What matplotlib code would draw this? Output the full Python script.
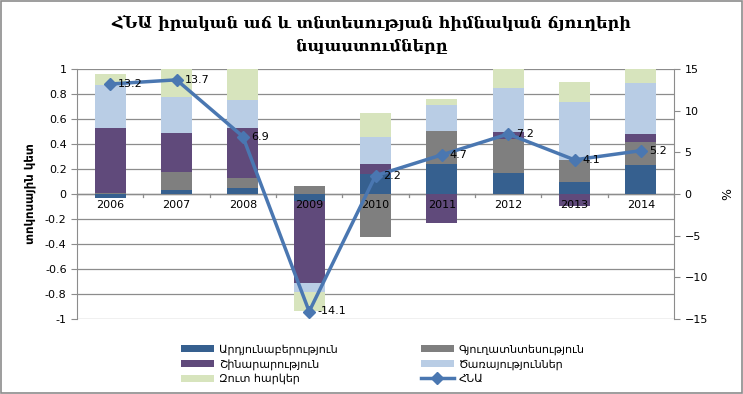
import numpy as np
import matplotlib.pyplot as plt

plt.rcParams['font.family'] = ['DejaVu Sans']

years = ['2006', '2007', '2008', '2009', '2010', '2011', '2012', '2013', '2014']
industry = [-0.035, 0.035, 0.051, -0.056, 0.163, 0.243, 0.171, 0.099, 0.235]
agriculture = [0.01, 0.144, 0.08, 0.067, -0.347, 0.264, 0.272, 0.176, 0.184]
construction = [0.52, 0.312, 0.40, -0.654, 0.08, -0.235, 0.057, -0.099, 0.064]
services = [0.345, 0.289, 0.225, -0.072, 0.216, 0.209, 0.352, 0.465, 0.409]
net_taxes = [0.088, 0.25, 0.26, -0.15, 0.193, 0.048, 0.16, 0.16, 0.12]
gdp = [13.2, 13.7, 6.9, -14.1, 2.2, 4.7, 7.2, 4.1, 5.2]

names = ['Արդյունաբերություն', 'Գյուղատնտեսություն', 'Շինարարություն',
         'Ծառայություններ', 'Զուտ հարկեր']
colors = ['#36608f', '#7f7f7f', '#604a7b', '#b9cde5', '#d7e4bd']
series = [industry, agriculture, construction, services, net_taxes]

fig = plt.figure(figsize=(7.43, 3.94), dpi=100)
ax = fig.add_axes([77/743, 1-319/394, 597/743, 250/394])
x = np.arange(len(years))

pos = np.zeros(len(years))
neg = np.zeros(len(years))
handles = []
for vals, c, n in zip(series, colors, names):
    v = np.array(vals)
    bottom = np.where(v >= 0, pos, neg)
    b = ax.bar(x, v, 0.47, bottom=bottom, color=c, label=n, zorder=2)
    handles.append(b)
    pos = pos + np.where(v >= 0, v, 0)
    neg = neg + np.where(v < 0, v, 0)

ax.set_xlim(-0.5, 8.5)
ax.set_ylim(-1, 1)
ax.set_yticks(np.arange(-1, 1.01, 0.2))
ax.set_yticklabels(['-1', '-0.8', '-0.6', '-0.4', '-0.2', '0', '0.2', '0.4', '0.6', '0.8', '1'])
ax.grid(axis='y', color='#8c8c8c', lw=0.9, zorder=0)
ax.set_axisbelow(True)
for s in ['top', 'right', 'bottom']:
    ax.spines[s].set_visible(False)
ax.spines['left'].set_color('#8c8c8c')
ax.axhline(0, color='#8c8c8c', lw=1, zorder=1)
ax.set_xticks([])
for i in range(10):
    ax.plot([i - 0.5, i - 0.5], [0, -0.025], color='#8c8c8c', lw=0.9, clip_on=False, zorder=1)
for i, yr in enumerate(years):
    ax.text(i, -0.045, yr, ha='center', va='top', fontsize=8, zorder=3)
ax.tick_params(axis='y', labelsize=8, length=4, color='#8c8c8c')
ax.set_ylabel('տոկոսային կետ', fontsize=8.5, fontweight='bold', labelpad=6)

ax2 = ax.twinx()
ax2.set_ylim(-15, 15)
ax2.set_yticks(np.arange(-15, 16, 5))
for s in ['top', 'left', 'bottom']:
    ax2.spines[s].set_visible(False)
ax2.spines['right'].set_color('#8c8c8c')
ax2.tick_params(axis='y', labelsize=8, length=4, color='#8c8c8c')
line, = ax2.plot(x, gdp, color='#4a77b1', lw=2.5, marker='D', ms=6,
                 label='ՀՆԱ', zorder=4)
for i, g in enumerate(gdp):
    ax2.text(i + 0.12, g, f'{g}', fontsize=8, va='center', ha='left', zorder=5)
ax2.set_ylabel('%', fontsize=9, labelpad=10)

fig.text(0.5, 0.912, 'ՀՆԱ իրական աճ և տնտեսության հիմնական ճյուղերի\nնպաստումները',
         ha='center', va='center', fontsize=11.5, fontweight='bold', family='DejaVu Serif',
         linespacing=1.45)

# legend filled column-wise, so reorder to read row-wise like the original
leg_h = [handles[0], handles[2], handles[4], handles[1], handles[3], line]
leg_l = [names[0], names[2], names[4], names[1], names[3], 'ՀՆԱ']
fig.legend(leg_h, leg_l, ncol=2, loc='center', bbox_to_anchor=(0.515, 0.075),
           frameon=False, fontsize=8, columnspacing=7.5, handlelength=3,
           handleheight=0.6, labelspacing=0.35, handletextpad=0.4)

fig.patches.append(plt.Rectangle((0.001, 0.002), 0.997, 0.995, transform=fig.transFigure,
                                 fill=False, edgecolor='#8c8c8c', lw=1.2))
fig.savefig('out.png', dpi=100)
